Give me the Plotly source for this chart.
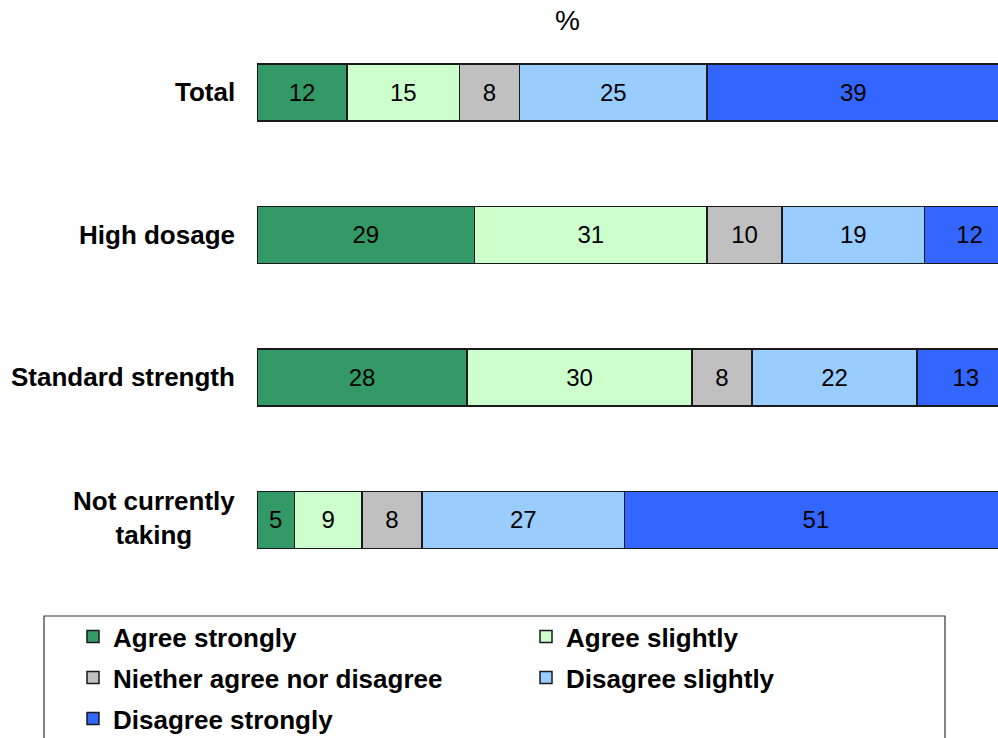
import plotly.graph_objects as go

# Survey groups (top to bottom) and response shares in %
groups = ["Total", "High dosage", "Standard strength", "Not currently taking"]
group_labels = ["Total", "High dosage", "Standard strength", "Not currently<br>taking"]

responses = [
    "Agree strongly",
    "Agree slightly",
    "Niether agree nor disagree",
    "Disagree slightly",
    "Disagree strongly",
]
agree_strongly = [12, 29, 28, 5]
agree_slightly = [15, 31, 30, 9]
neither = [8, 10, 8, 8]
disagree_slightly = [25, 19, 22, 27]
disagree_strongly = [39, 12, 13, 51]

series = [agree_strongly, agree_slightly, neither, disagree_slightly, disagree_strongly]
colors = ["#339966", "#CCFFCC", "#C0C0C0", "#99CCFF", "#3366FF"]
# legend row each response is listed in (two per row)
legend_rows = ["legend", "legend", "legend2", "legend2", "legend3"]

FONT = "Liberation Sans, Arial, sans-serif"

fig = go.Figure()
for name, vals, col, lg in zip(responses, series, colors, legend_rows):
    fig.add_trace(go.Bar(
        y=groups,
        x=vals,
        name=f"<b>{name}</b>",
        orientation="h",
        marker=dict(color=col, line=dict(color="#1a1a1a", width=1.5)),
        text=[str(v) for v in vals],
        textposition="inside",
        insidetextanchor="middle",
        textangle=0,
        constraintext="none",
        textfont=dict(family=FONT, size=24, color="black"),
        width=0.4,
        legend=lg,
    ))

# Category labels, centred multi-line text placed left of the bars' start
for g, lab in zip(groups, group_labels):
    fig.add_annotation(
        x=0, xref="paper", y=g, yref="y",
        text=f"<b>{lab}</b>", showarrow=False,
        xanchor="right", yanchor="middle", align="center",
        xshift=-20, yshift=2 if "<br>" in lab else 0,
        font=dict(family=FONT, size=26, color="black"),
    )

# "%" heading
fig.add_annotation(
    x=0.419, xref="paper", y=1.0, yref="paper",
    text="%", showarrow=False, xanchor="center", yanchor="bottom",
    yshift=-17,
    font=dict(family=FONT, size=28, color="black"),
)

# Legend frame
fig.add_shape(
    type="rect", xref="paper", yref="paper",
    x0=(44 - 257) / 741, x1=(945 - 257) / 741,
    y0=(591 - 760) / 570, y1=(591 - 616) / 570,
    line=dict(color="#333333", width=1.2), fillcolor="rgba(0,0,0,0)",
    layer="below",
)


def legend_row(top_px):
    return dict(
        orientation="h",
        x=(73 - 257) / 741, xanchor="left",
        y=(591 - top_px) / 570, yanchor="top",
        traceorder="normal",
        entrywidth=408, entrywidthmode="pixels",
        font=dict(family=FONT, size=26, color="black"),
        bgcolor="rgba(0,0,0,0)",
        borderwidth=0,
    )


fig.update_layout(
    width=998, height=738,
    margin=dict(l=257, r=0, t=21, b=147, autoexpand=False),
    paper_bgcolor="white", plot_bgcolor="white",
    barmode="stack",
    showlegend=True,
    legend=legend_row(613),
    legend2=legend_row(654),
    legend3=legend_row(695),
    xaxis=dict(range=[0, 98.8], visible=False, fixedrange=True),
    yaxis=dict(
        categoryorder="array", categoryarray=groups[::-1],
        showticklabels=False, showgrid=False, zeroline=False, showline=False,
        range=[-0.5, 3.5],
    ),
)

fig.write_html("out.html")
